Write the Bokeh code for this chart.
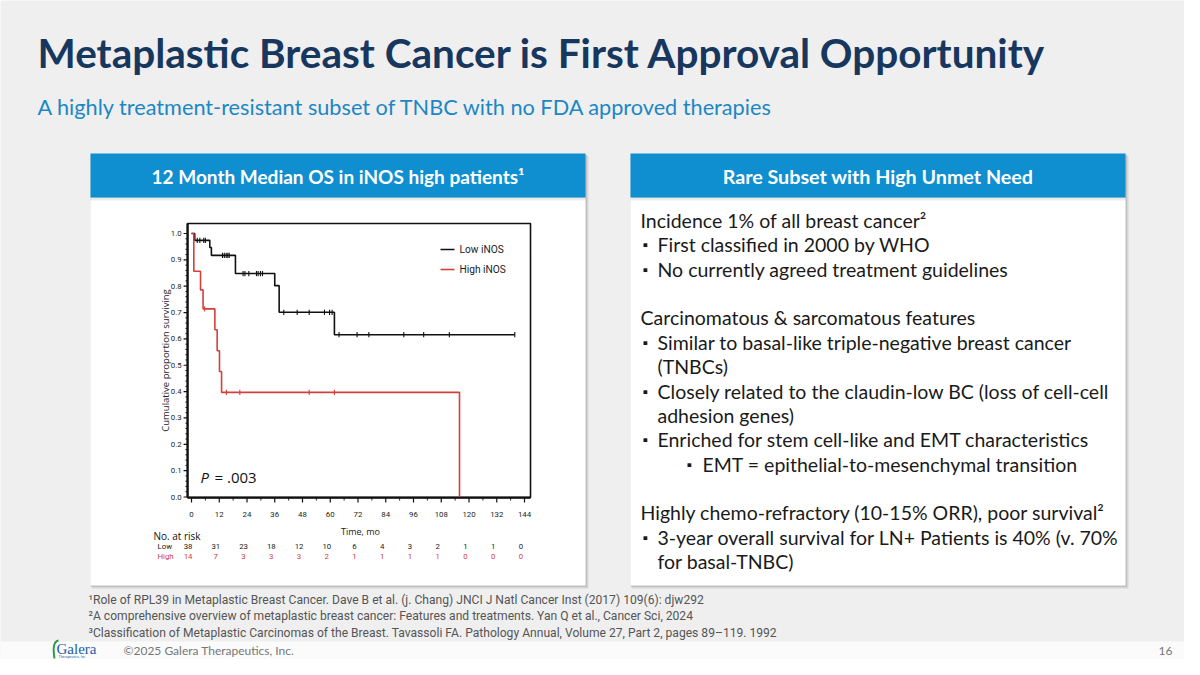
import math
from bokeh.plotting import figure
from bokeh.models import Range1d
from bokeh.core.properties import value
from bokeh.embed import file_html
from bokeh.resources import INLINE

# ---------------- data ----------------
TITLE = "Metaplastic Breast Cancer is First Approval Opportunity"
SUBTITLE = "A highly treatment-resistant subset of TNBC with no FDA approved therapies"
LEFT_HEADER = "12 Month Median OS in iNOS high patients\u00b9"
RIGHT_HEADER = "Rare Subset with High Unmet Need"

# Kaplan-Meier: step times (months) and survival after each step
low_times = [0, 1.4, 7.9, 8.6, 19.0, 36.0, 37.9, 61.8]
low_surv = [1.0, 0.974, 0.947, 0.917, 0.848, 0.802, 0.701, 0.616]
low_end = 139.8
low_censor = [2.5, 3.6, 5.3, 6.0, 13.4, 14.2, 15.0, 15.7, 16.3, 22.3, 23.1, 24.8,
              28.1, 28.8, 29.8, 30.7, 39.9, 45.7, 50.9, 57.5, 59.7, 60.8,
              63.8, 71.6, 76.7, 91.8, 100.4, 111.5, 139.8]

high_times = [0, 1.0, 3.9, 5.0, 10.1, 11.1, 12.1, 13.0, 115.9]
high_surv = [1.0, 0.857, 0.786, 0.714, 0.635, 0.555, 0.476, 0.397, 0.0]
high_censor = [5.7, 15.1, 20.9, 50.9, 61.8]

x_ticks = [0, 12, 24, 36, 48, 60, 72, 84, 96, 108, 120, 132, 144]
y_ticks = [0.0, 0.1, 0.2, 0.3, 0.4, 0.5, 0.6, 0.7, 0.8, 0.9, 1.0]
risk_low = [38, 31, 23, 18, 12, 10, 6, 4, 3, 2, 1, 1, 0]
risk_high = [14, 7, 3, 3, 3, 2, 1, 1, 1, 1, 0, 0, 0]
series_names = ["Low iNOS", "High iNOS"]
p_value_text = "= .003"

right_lines = [
    ("head", "Incidence 1% of all breast cancer\u00b2"),
    ("b1", "First classified in 2000 by WHO"),
    ("b1", "No currently agreed treatment guidelines"),
    ("blank", ""),
    ("head", "Carcinomatous & sarcomatous features"),
    ("b1", "Similar to basal-like triple-negative breast cancer"),
    ("cont", "(TNBCs)"),
    ("b1", "Closely related to the claudin-low BC (loss of cell-cell"),
    ("cont", "adhesion genes)"),
    ("b1", "Enriched for stem cell-like and EMT characteristics"),
    ("b2", "EMT = epithelial-to-mesenchymal transition"),
    ("blank", ""),
    ("head", "Highly chemo-refractory (10-15% ORR), poor survival\u00b2"),
    ("b1", "3-year overall survival for LN+ Patients is 40% (v. 70%"),
    ("cont", "for basal-TNBC)"),
]

footnotes = [
    "\u00b9Role of RPL39 in Metaplastic Breast Cancer. Dave B et al. (j. Chang) JNCI J Natl Cancer Inst (2017) 109(6): djw292",
    "\u00b2A comprehensive overview of metaplastic breast cancer: Features and treatments. Yan Q et al., Cancer Sci, 2024",
    "\u00b3Classification of Metaplastic Carcinomas of the Breast. Tavassoli FA. Pathology Annual, Volume 27, Part 2, pages 89\u2013119. 1992",
]
COPYRIGHT = "\u00a92025 Galera Therapeutics, Inc."
PAGE_NO = "16"

# ---------------- figure (slide canvas in pixel coords) ----------------
W, H = 1184, 659
p = figure(width=W, height=H, x_range=Range1d(0, W), y_range=Range1d(H, 0),
           x_axis_type=None, y_axis_type=None, toolbar_location=None,
           output_backend="svg", min_border=0)
p.outline_line_color = None
p.background_fill_color = "#efefef"
p.border_fill_color = "#efefef"

# KM ranges: map t=0 -> px 191, t=144 -> px 524 ; s=0 -> py 496.5, s=1 -> py 233
kx0, kx1 = 191.0, 524.0
sx = (kx1 - kx0) / 144.0
ky0, ky1 = 496.5, 233.0
sy = (ky0 - ky1) / 1.0
p.extra_x_ranges = {"kmx": Range1d((0 - kx0) / sx, (W - kx0) / sx)}
p.extra_y_ranges = {"kmy": Range1d((ky0 - H) / sy, (ky0 - 0) / sy)}
KM = dict(x_range_name="kmx", y_range_name="kmy")

SANS = "Lato"
NARROW = "Roboto"


def txt(x, y, s, size, color="#1a1a1a", font=SANS, style="normal", align="left",
        baseline="middle", angle=0.0, **kw):
    p.text(x=[x], y=[y], text=[s], text_font=value(font), text_font_size=f"{size}px",
           text_color=color, text_font_style=style, text_align=align,
           text_baseline=baseline, angle=angle, **kw)


# footer white band
p.quad(left=[0], right=[1200], top=[641], bottom=[680], fill_color="#fbfbfb", line_color=None)

# title + subtitle
txt(37, 52, TITLE, 40.5, color="#17375e", style="bold")
txt(37, 106, SUBTITLE, 21.7, color="#1b87c4")

# panels with shadow
BLUE = "#0f8fd0"
for (l, r) in [(90, 585), (630, 1125)]:
    p.quad(left=[l + 1], right=[r + 3], top=[155], bottom=[588], fill_color="#000000",
           fill_alpha=0.10, line_color=None)
    p.quad(left=[l], right=[r + 1.5], top=[154], bottom=[586.5], fill_color="#000000",
           fill_alpha=0.10, line_color=None)
    p.quad(left=[l], right=[r], top=[197], bottom=[585], fill_color="white", line_color=None)
    p.quad(left=[l], right=[r], top=[197], bottom=[200], fill_color="#000000",
           fill_alpha=0.08, line_color=None)
    p.quad(left=[l], right=[r], top=[153], bottom=[197], fill_color=BLUE, line_color=None)

txt(337.5, 176, LEFT_HEADER, 19.0, color="white", style="bold", align="center")
txt(877.5, 176, RIGHT_HEADER, 19.7, color="white", style="bold", align="center")

# right panel text
line_y0, line_dy = 220.0, 24.36
BODY = 19.5
for i, (kind, s) in enumerate(right_lines):
    y = line_y0 + i * line_dy
    if kind == "head":
        txt(640, y, s, BODY)
    elif kind == "b1":
        txt(642, y, "\u25aa", 14)
        txt(657, y, s, BODY)
    elif kind == "cont":
        txt(657, y, s, BODY)
    elif kind == "b2":
        txt(686, y, "\u25aa", 14)
        txt(702, y, s, BODY)

# ---------------- Kaplan-Meier chart ----------------
def surv_at(times, surv, t):
    s = surv[0]
    for ti, si in zip(times, surv):
        if ti <= t:
            s = si
    return s


x_left, x_right = -1.7, 146.6
y_bot, y_top = -0.002, 1.038
# frame
p.quad(left=[x_left], right=[x_right], bottom=[y_bot], top=[y_top], fill_color=None,
       line_color="#111111", line_width=1.6, **KM)
p.segment(x0=[x_left, x_left], y0=[y_bot, y_bot], x1=[x_left, x_right], y1=[y_top, y_bot],
          line_color="#111111", line_width=2.2, **KM)

# y ticks
maj_len = 4.0 / sx
p.segment(x0=[x_left] * len(y_ticks), x1=[x_left - maj_len] * len(y_ticks),
          y0=y_ticks, y1=y_ticks, line_color="#111111", line_width=1.2, **KM)
minor_y = [v / 50.0 for v in range(0, 51) if v % 5 != 0]
p.segment(x0=[x_left] * len(minor_y), x1=[x_left - 2.2 / sx] * len(minor_y),
          y0=minor_y, y1=minor_y, line_color="#111111", line_width=0.9, **KM)
p.text(x=[x_left] * len(y_ticks), y=y_ticks, text=[f"{v:.1f}" for v in y_ticks],
       x_offset=-6, text_align="right", text_baseline="middle",
       text_font=value(NARROW), text_font_size="7.8px",
       text_color="#222222", **KM)

# x ticks
p.segment(x0=x_ticks, x1=x_ticks, y0=[y_bot] * len(x_ticks),
          y1=[y_bot - 5.0 / sy] * len(x_ticks), line_color="#111111", line_width=1.2, **KM)
minor_x = [t + 6 for t in x_ticks[:-1]]
p.segment(x0=minor_x, x1=minor_x, y0=[y_bot] * len(minor_x),
          y1=[y_bot - 3.0 / sy] * len(minor_x), line_color="#111111", line_width=0.9, **KM)
p.text(x=x_ticks, y=[y_bot] * len(x_ticks), text=[str(t) for t in x_ticks],
       y_offset=17, text_align="center", text_baseline="middle",
       text_font=value(NARROW), text_font_size="7.8px",
       text_color="#222222", **KM)

# curves
RED = "#d2403c"
p.step(x=low_times + [low_end], y=low_surv + [low_surv[-1]], mode="after",
       line_color="#111111", line_width=1.6, **KM)
p.step(x=high_times, y=high_surv, mode="after", line_color=RED, line_width=1.6, **KM)
cm = 2.6 / sy
ls = [surv_at(low_times, low_surv, t) for t in low_censor]
p.segment(x0=low_censor, x1=low_censor, y0=[s - cm for s in ls], y1=[s + cm for s in ls],
          line_color="#111111", line_width=1.1, **KM)
hs = [surv_at(high_times, high_surv, t) for t in high_censor]
p.segment(x0=high_censor, x1=high_censor, y0=[s - cm for s in hs], y1=[s + cm for s in hs],
          line_color=RED, line_width=1.1, **KM)

# legend
p.segment(x0=[440, 440], x1=[454, 454], y0=[249, 269], y1=[249, 269],
          line_color=["#111111", RED], line_width=1.6)
txt(459, 249, series_names[0], 10.2, color="#222222", font=NARROW)
txt(459, 269, series_names[1], 10.2, color="#222222", font=NARROW)

# p value
txt(200, 476, "P", 15, color="#111111", font="Open Sans", style="italic")
txt(214, 476, p_value_text, 15, color="#111111", font="Open Sans")

# axis titles
txt(165, 360, "Cumulative proportion surviving", 9.5, color="#222222", font="Open Sans",
    align="center", angle=math.pi / 2)
txt(360, 531, "Time, mo", 9, color="#222222", font="Open Sans", align="center")

# number at risk
txt(153, 535, "No. at risk", 10, color="#111111", font="Open Sans")
txt(157, 546, "Low", 7.8, color="#222222", font=NARROW)
txt(157, 556, "High", 7.8, color=RED, font=NARROW)
p.text(x=[t - 1.5 for t in x_ticks], y=[0] * len(x_ticks), text=[str(v) for v in risk_low],
       y_offset=546 - ky0, text_align="center", text_baseline="middle",
       text_font=value(NARROW), text_font_size="7.8px",
       text_color="#222222", **KM)
p.text(x=[t - 1.5 for t in x_ticks], y=[0] * len(x_ticks), text=[str(v) for v in risk_high],
       y_offset=556 - ky0, text_align="center", text_baseline="middle",
       text_font=value(NARROW), text_font_size="7.8px",
       text_color=RED, **KM)

# footnotes
for i, s in enumerate(footnotes):
    txt(88, 599 + i * 16.5, s, 12.1, color="#555555", font=NARROW)

# footer
txt(123, 650, COPYRIGHT, 12, color="#777777")
txt(1172, 650, PAGE_NO, 12, color="#777777", align="right")
# logo
p.bezier(x0=[58], y0=[640], x1=[54], y1=[658], cx0=[52], cy0=[641], cx1=[53], cy1=[652],
         line_color="#2e9a48", line_width=2)
txt(56, 648, "Galera", 15, color="#1d5ea8", font="Liberation Serif")
txt(58, 656.5, "Therapeutics, Inc", 3.5, color="#1d5ea8", font="Liberation Sans")

open("out.html", "w").write(file_html(p, INLINE))
